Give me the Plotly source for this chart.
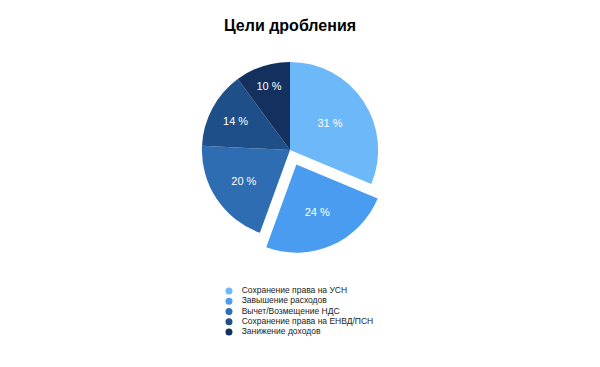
import plotly.graph_objects as go

categories = ["Сохранение права на УСН", "Завышение расходов", "Вычет/Возмещение НДС",
              "Сохранение права на ЕНВД/ПСН", "Занижение доходов"]
values = [31, 24, 20, 14, 10]
colors = ["#6db8f8", "#4a9cf0", "#2f6db3", "#1f4f88", "#13305e"]
pulls = [0, 0.18, 0, 0, 0]

# figure area is offset by the page's default 8px body margin
W, H = 584, 351

fig = go.Figure()
fig.add_trace(go.Pie(
    labels=categories, values=values, sort=False, direction="clockwise", rotation=0,
    pull=pulls, marker=dict(colors=colors, line=dict(color="white", width=0)),
    texttemplate="%{value} %", textposition="inside", insidetextorientation="horizontal",
    textfont=dict(color="white", size=11, family="Liberation Sans"),
    domain=dict(x=[0.3048, 0.6610], y=[0.2991, 0.8917]), showlegend=False, hoverinfo="label+value",
))

# custom legend (compact, circular markers)
n = len(categories)
ypos = list(range(n - 1, -1, -1))
fig.add_trace(go.Scatter(
    x=[0] * n, y=ypos, mode="markers", xaxis="x", yaxis="y",
    marker=dict(color=colors, size=7, symbol="circle"), cliponaxis=False,
    showlegend=False, hoverinfo="skip",
))
fig.add_trace(go.Scatter(
    x=[0.038] * n, y=ypos, mode="text", text=categories, textposition="middle right",
    textfont=dict(size=8.5, color="#222222", family="Liberation Sans"),
    xaxis="x", yaxis="y", cliponaxis=False, showlegend=False, hoverinfo="skip",
))

fig.update_layout(
    width=W, height=H, margin=dict(l=0, r=0, t=0, b=0),
    paper_bgcolor="white", plot_bgcolor="white",
    title=dict(text="<b>Цели дробления</b>", x=0.4829, xanchor="center", y=0.9516, yanchor="middle",
               yref="container", font=dict(size=16, color="#000000", family="Liberation Sans")),
    xaxis=dict(domain=[0.3784, 0.95], range=[0, 1], visible=False, fixedrange=True),
    yaxis=dict(domain=[0.0624, 0.2083], range=[-0.5, 4.5], visible=False, fixedrange=True),
)

fig.write_html("out.html")
